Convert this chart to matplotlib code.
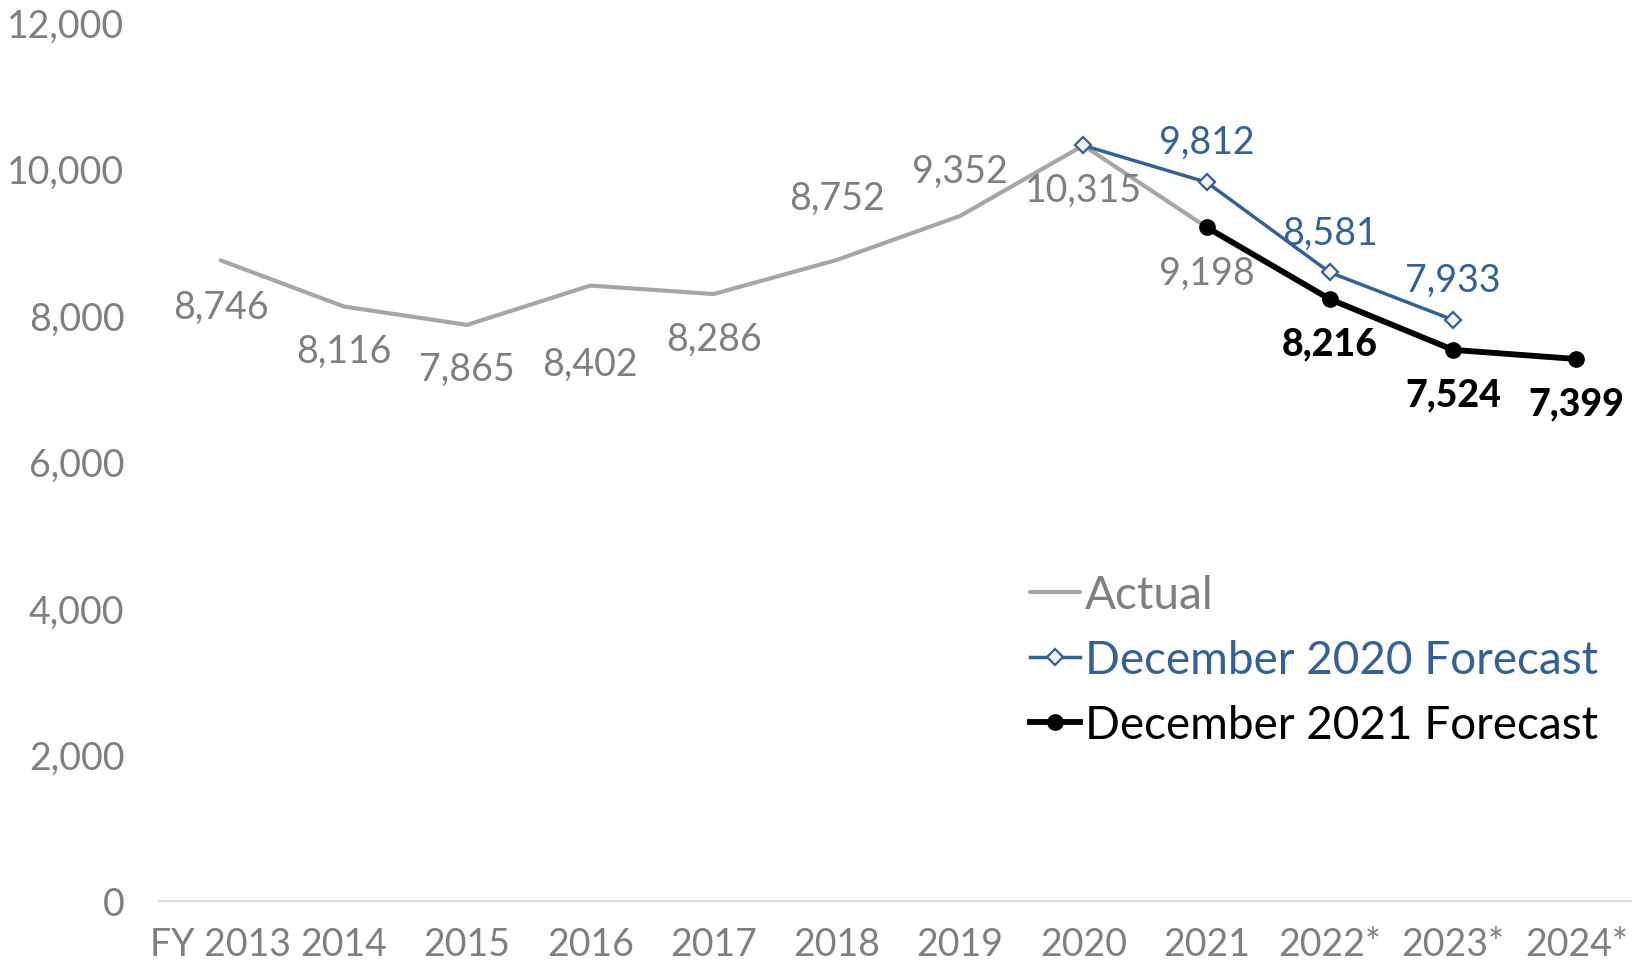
import matplotlib
matplotlib.use("Agg")
import matplotlib.pyplot as plt
from matplotlib.ticker import FuncFormatter

plt.rcParams['font.family'] = ['Lato', 'DejaVu Sans']

categories = ["FY 2013", "2014", "2015", "2016", "2017", "2018", "2019", "2020", "2021", "2022*", "2023*", "2024*"]
actual = [8746, 8116, 7865, 8402, 8286, 8752, 9352, 10315, 9198]
dec2020 = [10315, 9812, 8581, 7933]      # 2020 .. 2023*
dec2021 = [9198, 8216, 7524, 7399]       # 2021 .. 2024*
yticks = [0, 2000, 4000, 6000, 8000, 10000, 12000]

# label offsets (pixels), style only
act_dy = [-46, -44, -44, -78, -45, 62, 45, -44, -45]
d20_dy = [None, 41, 40, 40]
d21_dy = [-44, -45, -44]

GRAY_LINE = "#A6A6A6"
GRAY_TXT = "#7F7F7F"
BLUE = "#336195"

W, H = 1632, 970
fig = plt.figure(figsize=(W/100, H/100), dpi=100)
ax = fig.add_axes([159/W, (H-902)/H, (1638-159)/W, (902-23)/H])

x = list(range(len(categories)))
xa = x[:len(actual)]
x20 = x[7:7+len(dec2020)]
x21 = x[8:8+len(dec2021)]

ax.plot(xa, actual, color=GRAY_LINE, lw=3.0, solid_capstyle='round', label="Actual", zorder=2)
ax.plot(x20, dec2020, color=BLUE, lw=2.5, marker='D', markersize=8, markerfacecolor='#F2F2F2',
        markeredgecolor=BLUE, markeredgewidth=1.6, label="December 2020 Forecast", zorder=3)
ax.plot(x21, dec2021, color='black', lw=4.2, marker='o', markersize=11, label="December 2021 Forecast", zorder=4)

fs = 27
for xi, v, dy in zip(xa, actual, act_dy):
    ax.annotate(f"{v:,}", (xi, v), xytext=(0, dy), textcoords='offset pixels',
                ha='center', va='center', fontsize=fs, color=GRAY_TXT)
for xi, v, dy in zip(x20, dec2020, d20_dy):
    if dy is None:
        continue
    ax.annotate(f"{v:,}", (xi, v), xytext=(0, dy), textcoords='offset pixels',
                ha='center', va='center', fontsize=fs, color=BLUE)
for xi, v, dy in zip(x21[1:], dec2021[1:], d21_dy):
    ax.annotate(f"{v:,}", (xi, v), xytext=(0, dy), textcoords='offset pixels',
                ha='center', va='center', fontsize=fs, color='black', fontweight='black')

ax.set_xlim(-0.5, len(categories) - 0.5)
ax.set_ylim(0, 12000)
ax.set_yticks(yticks)
ax.yaxis.set_major_formatter(FuncFormatter(lambda v, p: f"{int(v):,}"))
ax.set_xticks(x)
ax.set_xticklabels(categories)
ax.tick_params(axis='both', length=0, labelsize=fs, colors=GRAY_TXT)
ax.tick_params(axis='y', pad=25)
ax.tick_params(axis='x', pad=18)
for s in ['top', 'right', 'left']:
    ax.spines[s].set_visible(False)
ax.spines['bottom'].set_color('#D9D9D9')
ax.spines['bottom'].set_linewidth(1.5)

leg = ax.legend(loc='upper left', bbox_to_anchor=(1030/W, 1 - 575/H), bbox_transform=fig.transFigure,
                frameon=False, fontsize=33, handlelength=1.1, handletextpad=0.1, labelspacing=0.5,
                borderaxespad=0, borderpad=0)
for t, c in zip(leg.get_texts(), [GRAY_TXT, BLUE, 'black']):
    t.set_color(c)

fig.savefig("out.png", dpi=100)
